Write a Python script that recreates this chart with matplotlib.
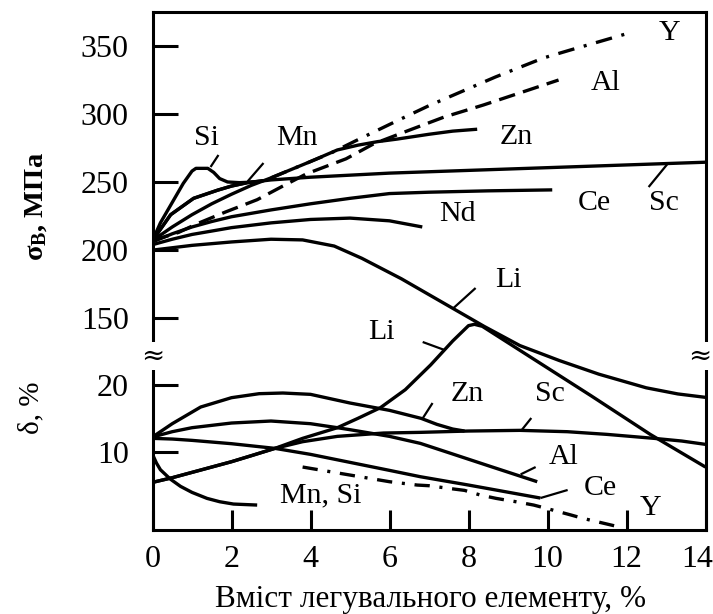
import matplotlib
matplotlib.use('Agg')
import matplotlib.pyplot as plt
from matplotlib.transforms import ScaledTranslation

plt.rcParams['font.family'] = ['Liberation Serif', 'DejaVu Serif']
plt.rcParams['mathtext.fontset'] = 'custom'
plt.rcParams['mathtext.rm'] = 'Liberation Serif'
plt.rcParams['mathtext.bf'] = 'Liberation Serif:bold'
plt.rcParams['mathtext.it'] = 'Liberation Serif:italic'
plt.rcParams['lines.scale_dashes'] = False
plt.rcParams['lines.solid_capstyle'] = 'butt'
plt.rcParams['lines.solid_joinstyle'] = 'round'

# ---------------- tensile strength sigma_B, MPa (upper panel) ----------------
si_x = [0, 0.2, 0.5, 0.78, 1.0, 1.1, 1.4, 1.55, 1.7, 1.9, 2.2, 2.6]
si_s = [207, 220, 235, 249, 258, 260, 260, 257, 252.5, 250, 249.5, 250]

mn_x = [0, 0.46, 1.04, 1.65, 2.0, 2.4, 2.8]
mn_s = [207, 226, 238, 244, 247, 249.5, 251]

sc_x = [0, 0.46, 1.04, 1.65, 2.0, 2.4, 3.0, 4.0, 5.0, 6.0, 7.0, 8.5, 10.0, 11.5, 13.0, 14.0]
sc_s = [207, 226, 238, 244, 247, 249.5, 251.5, 253.5, 255, 256.5, 257.5, 259, 260.5, 262, 263.5, 264.5]

zn_x = [0, 0.5, 1.0, 1.5, 2.0, 2.5, 3.0, 3.5, 4.0, 4.68, 5.2, 5.7, 6.2, 7.0, 7.6, 8.22]
zn_s = [207, 217, 226, 234, 241, 247.5, 253, 259, 265, 273.5, 277, 279.6, 281.5, 285, 287.3, 288.7]

al_x = [0, 0.66, 1.14, 1.85, 2.65, 3.3, 3.9, 4.9, 5.6, 6.5, 7.37, 8.38, 9.4, 10.28]
al_s = [207, 213, 219.5, 228, 237, 247, 256, 267, 278, 288, 297.5, 306.5, 316.3, 324.8]

y_x = [3.0, 4.0, 4.5, 5.2, 6.2, 7.0, 7.8, 8.68, 9.9, 10.6, 11.27, 12.15]
y_s = [253, 265, 271, 281, 295, 306, 316, 327, 341, 347, 352.6, 360]

ce_x = [0, 0.5, 1.0, 1.5, 2.0, 3.0, 4.0, 5.0, 6.0, 7.0, 8.5, 10.12]
ce_s = [206, 212, 217, 221, 224.5, 229.5, 234, 238, 241.5, 242.5, 243.5, 244.2]

nd_x = [0, 0.5, 1.0, 2.0, 3.0, 4.0, 5.0, 6.0, 6.83]
nd_s = [204, 208, 211.5, 216.5, 220, 222.5, 223.5, 221.5, 217]

lis_x = [0, 1.0, 2.0, 3.0, 3.8, 4.6, 5.3, 6.3, 7.5, 8.4, 9.3, 10.3, 11.3, 12.5, 13.3, 14.0]
lis_s = [200, 203.5, 206, 208, 207.5, 203, 194, 179, 159, 144, 130, 119, 109, 99, 94.5, 92]

# ---------------- elongation delta, % (lower panel) ----------------
mnsi_x = [0, 0.1, 0.2, 0.45, 0.71, 1.0, 1.38, 1.7, 2.05, 2.65]
mnsi_d = [9.6, 8.3, 7.3, 5.9, 4.8, 3.9, 3.0, 2.5, 2.15, 2.0]

znd_x = [0, 0.5, 1.22, 2.0, 2.7, 3.3, 4.0, 5.0, 6.0, 6.8, 7.2, 7.6, 7.9]
znd_d = [12.2, 14.2, 16.7, 18.1, 18.7, 18.8, 18.6, 17.3, 16.2, 15.0, 14.1, 13.4, 13.1]

ald_x = [0, 0.5, 1.0, 2.0, 3.0, 4.0, 4.68, 5.0, 6.0, 6.78, 7.5, 8.5, 9.74]
ald_d = [12.2, 13.0, 13.6, 14.3, 14.6, 14.2, 13.6, 13.3, 12.3, 11.25, 9.85, 7.9, 5.5]

ced_x = [0, 0.5, 1.0, 2.0, 3.1, 4.0, 5.0, 6.0, 6.78, 8.0, 9.82]
ced_d = [12.0, 11.9, 11.7, 11.2, 10.5, 9.6, 8.4, 7.2, 6.25, 5.0, 3.05]

lid_x = [0, 0.5, 1.0, 1.5, 2.0, 2.5, 3.1, 3.8, 4.68, 5.2, 5.77, 6.4, 7.04, 7.6, 8.0, 8.15, 8.35, 11.1, 12.6, 14.0]
lid_d = [5.4, 6.1, 6.9, 7.7, 8.5, 9.4, 10.5, 12.0, 13.6, 15.0, 16.6, 19.3, 23.0, 26.6, 28.9, 29.1, 28.8, 18.4, 12.6, 7.7]

scd_x = [0, 0.5, 1.0, 1.5, 2.0, 2.5, 3.1, 3.8, 4.68, 5.85, 6.78, 8.0, 9.3, 10.5, 11.5, 12.7, 13.4, 14.0]
scd_d = [5.4, 6.1, 6.9, 7.7, 8.5, 9.4, 10.5, 11.5, 12.3, 12.8, 12.9, 13.1, 13.2, 13.0, 12.6, 12.0, 11.6, 11.1]

yd_x = [3.8, 4.3, 5.0, 5.5, 6.0, 6.7, 7.0, 7.5, 7.9, 8.3, 8.7, 9.2, 9.65, 10.1, 10.6, 10.9, 11.4, 11.9]
yd_d = [7.7, 7.2, 6.5, 6.0, 5.5, 5.0, 4.9, 4.5, 4.2, 3.5, 3.0, 2.5, 2.0, 1.3, 0.5, 0.0, -0.7, -1.4]

# ---------------- ticks and texts ----------------
x_ticks = [0, 2, 4, 6, 8, 10, 12, 14]
s_ticks = [150, 200, 250, 300, 350]
d_ticks = [10, 20]

top_labels = [('Si', 1.37, 282.3), ('Mn', 3.65, 282.3), ('Y', 13.09, 359.3),
              ('Al', 11.47, 322.6), ('Zn', 9.22, 283.0), ('Ce', 11.19, 234.6),
              ('Sc', 12.94, 234.6), ('Nd', 7.72, 226.8), ('Li', 9.01, 178.4)]
bot_labels = [('Li', 5.8, 27.9), ('Zn', 7.97, 18.65), ('Sc', 10.05, 18.65),
              ('Al', 10.41, 9.2), ('Ce', 11.34, 4.56), ('Y', 12.61, 1.56),
              ('Mn, Si', 4.25, 3.5)]
top_leaders = [((1.67, 269.8), (1.47, 261.0)), ((2.81, 263.9), (2.41, 250.5)),
               ((13.04, 263.3), (12.56, 246.3)), ((8.18, 172.2), (7.62, 157.5))]
bot_leaders = [((6.84, 26.45), (7.37, 25.3)), ((7.09, 17.3), (6.84, 15.0)),
               ((9.59, 15.05), (9.34, 13.2)), ((9.70, 7.7), (9.32, 6.6)),
               ((10.51, 4.26), (9.82, 3.05))]

xlabel = 'Вміст легувального елементу, %'
ylabel_top = r'$\mathbf{\sigma_{В}}$, МПа'
ylabel_bot = 'δ, %'

# ---------------- figure ----------------
fig = plt.figure(figsize=(7.13, 6.14), dpi=100)
L, W = 152.5 / 713, 553 / 713
ax_top = fig.add_axes([L, 1 - 357 / 614, W, 345 / 614])
ax_bot = fig.add_axes([L, 1 - 530 / 614, W, 173 / 614])

LW = 2.4
SPW = 2.2
for ax in (ax_top, ax_bot):
    ax.set_xlim(0, 14)
    ax.patch.set_visible(False)
    for sp in ax.spines.values():
        sp.set_linewidth(SPW)
ax_top.set_ylim(121.6, 374.7)
ax_bot.set_ylim(-1.74, 24.2)
ax_top.spines['bottom'].set_visible(False)
ax_bot.spines['top'].set_visible(False)

solid = dict(color='black', lw=LW)
ax_top.plot(si_x, si_s, **solid)
ax_top.plot(mn_x, mn_s, **solid)
ax_top.plot(sc_x, sc_s, **solid)
ax_top.plot(zn_x, zn_s, **solid)
ax_top.plot(ce_x, ce_s, **solid)
ax_top.plot(nd_x, nd_s, **solid)
ax_top.plot(lis_x, lis_s, clip_on=False, **solid)
ax_top.plot(al_x, al_s, color='black', lw=LW, linestyle=(0, (12, 6)))
ax_top.plot(y_x, y_s, color='black', lw=LW, linestyle=(0, (12, 7, 2.2, 7)))

ax_bot.plot(mnsi_x, mnsi_d, **solid)
ax_bot.plot(znd_x, znd_d, **solid)
ax_bot.plot(ald_x, ald_d, **solid)
ax_bot.plot(ced_x, ced_d, **solid)
ax_bot.plot(scd_x, scd_d, **solid)
ax_bot.plot(lid_x, lid_d, clip_on=False, **solid)
ax_bot.plot(yd_x, yd_d, color='black', lw=LW, linestyle=(0, (11, 7, 2.2, 7)))

# ticks
TFS = 23
ax_top.set_yticks(s_ticks)
ax_top.set_yticklabels([str(t) for t in s_ticks])
ax_top.tick_params(axis='y', direction='in', length=18, width=SPW, labelsize=TFS, pad=17, right=False)
ax_top.tick_params(axis='x', bottom=False, top=False, labelbottom=False)

ax_bot.set_yticks(d_ticks)
ax_bot.set_yticklabels([str(t) for t in d_ticks])
ax_bot.tick_params(axis='y', direction='in', length=18, width=SPW, labelsize=TFS, pad=17, right=False)
ax_bot.set_xticks(x_ticks)
ax_bot.set_xticklabels([str(t) for t in x_ticks])
ax_bot.tick_params(axis='x', direction='in', length=14.5, width=SPW, labelsize=TFS, pad=11, top=False)
last = ax_bot.get_xticklabels()[-1]
last.set_horizontalalignment('right')
last.set_transform(last.get_transform() + ScaledTranslation(8 / 100, 0, fig.dpi_scale_trans))

# curve labels
for txt, x, y in top_labels:
    ax_top.text(x, y, txt, fontsize=21.5, ha='center', va='center')
for txt, x, y in bot_labels:
    ax_bot.text(x, y, txt, fontsize=21.5, ha='center', va='center')
for (p0, p1) in top_leaders:
    ax_top.plot([p0[0], p1[0]], [p0[1], p1[1]], color='black', lw=1.6, clip_on=False)
for (p0, p1) in bot_leaders:
    ax_bot.plot([p0[0], p1[0]], [p0[1], p1[1]], color='black', lw=1.6, clip_on=False)

# axis break marks
for xf in (152.5 / 713, 700 / 713):
    fig.text(xf, 1 - 356 / 614, '≈', fontsize=20, ha='center', va='center',
             family=['DejaVu Serif'],
             bbox=dict(facecolor='white', edgecolor='none', pad=0.3))

# axis titles
fig.text(431 / 713, 1 - 600 / 614, xlabel, fontsize=22.5, ha='center', va='center')
fig.text(36 / 713, 1 - 207 / 614, ylabel_top, fontsize=20.5, fontweight='bold',
         rotation=90, ha='center', va='center')
fig.text(31 / 713, 1 - 408 / 614, ylabel_bot, fontsize=21, rotation=90,
         ha='center', va='center')

fig.savefig('out.png', dpi=100, facecolor='white')
